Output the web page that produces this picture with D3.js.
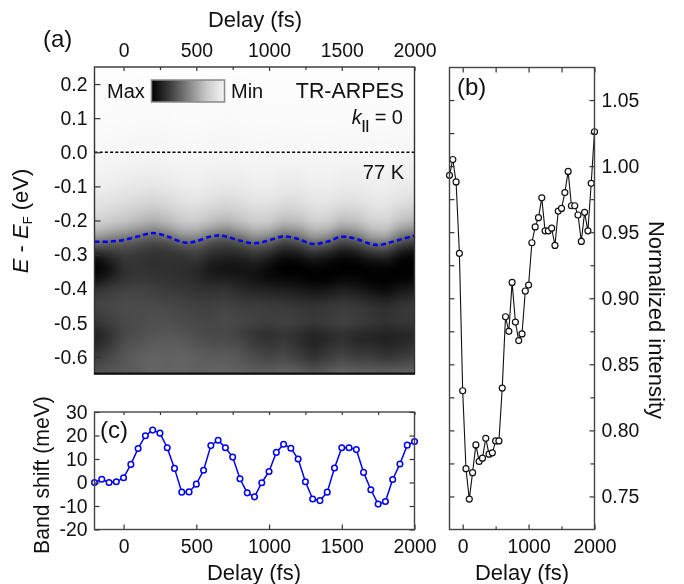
<!DOCTYPE html>
<html>
<head>
<meta charset="utf-8">
<script src="https://cdn.jsdelivr.net/npm/d3@7"></script>
<style>
	html, body { margin: 0; background: #fff; }
	#wrap { position: relative; width: 684px; height: 584px; overflow: hidden; }
	canvas, svg { position: absolute; left: 0; top: 0; }
	text { font-family: "Liberation Sans", Arial, sans-serif; fill: #111; }
	.tick text { font-size: 19.4px; fill: #111; font-family: "Liberation Sans", Arial, sans-serif; }
	.tick line, .domain { stroke: #333; stroke-width: 1.2; }
	.title { font-size: 22px; }
</style>
</head>
<body>
<div id="wrap"><canvas id="heat" width="684" height="584"></canvas><svg id="plot" width="684" height="584"></svg></div>
<script>
//Delay axis shared by (b) and (c), 50 fs steps
const delays = d3.range(45).map(i => -200 + i*50);

const intensity = [0.993,1.005,0.988,0.934,0.830,0.771,0.748,0.768,0.789,0.7765,0.779,0.794,0.782,0.783,0.792,0.792,
	0.832,0.886,0.875,0.912,0.882,0.868,0.873,0.9055,0.910,0.942,0.954,0.961,0.976,0.951,0.951,0.953,0.940,0.966,0.968,
	0.980,0.996,0.970,0.970,0.963,0.943,0.965,0.951,0.987,1.026];

const bandShift = [0,1.4,0,0.3,2,7.7,14.5,19.9,22.3,21,14.8,6,-4.1,-4,-0.7,5.2,15.7,18,14.8,10.8,1.6,-4.4,-6.1,-0.1,4.7,
	12.8,16.3,14.6,10,0.3,-7,-7.7,-4.1,6.2,14.8,14.8,14,4.3,-3.1,-9.2,-8.1,1.3,7.9,15.9,17.4];

//Band position drawn over the map (a)
const traceDelay = [-200,-100,0,100,200,300,400,450,500,600,650,700,800,900,1000,1100,1200,1300,1400,1500,1600,1700,1750,1800,1900,2000];
const traceEnergy = [-0.262,-0.262,-0.257,-0.2466,-0.237,-0.2466,-0.263,-0.265,-0.261,-0.2466,-0.2437,-0.2466,-0.259,-0.267,-0.258,
	-0.2466,-0.254,-0.269,-0.262,-0.2476,-0.254,-0.269,-0.272,-0.268,-0.256,-0.2447];

//Map (a): grey level per energy row and delay column
const mapDelay = d3.range(23).map(i => -200 + i*100);
const mapEnergy = [0.25,0.1,0,-0.05,-0.1,-0.15,-0.2,-0.225,-0.25,-0.275,-0.3,-0.325,-0.35,-0.375,-0.4,-0.45,-0.5,-0.525,-0.55,-0.6,-0.65];
const mapGrey = [
	[253,253,253,253,253,253,253,253,253,253,253,253,253,253,253,253,253,253,253,253,253,253,253],
	[252,251,251,250,250,250,251,251,250,249,250,251,251,251,251,251,251,251,251,251,251,251,251],
	[248,247,246,245,245,246,247,247,246,245,246,247,247,246,246,247,247,246,246,247,247,246,246],
	[244,243,241,240,239,240,242,243,241,240,241,243,243,241,241,243,243,241,241,243,243,241,240],
	[238,236,233,230,229,232,236,237,234,232,234,237,237,234,234,238,238,235,235,238,239,235,233],
	[228,224,220,214,210,216,224,226,220,216,220,226,226,219,220,228,228,221,222,229,230,222,219],
	[212,205,198,187,176,188,204,206,192,182,195,207,205,188,192,210,208,190,195,212,214,195,182],
	[190,178,165,150,135,152,178,178,155,140,160,182,176,145,155,186,180,148,160,190,195,158,140],
	[148,130,115,100,88,102,130,132,100,88,108,140,125,90,105,145,130,90,108,150,158,105,85],
	[85,78,78,70,60,62,78,85,62,55,62,85,72,45,55,85,72,45,55,88,95,52,35],
	[22,45,60,55,48,50,52,60,42,38,38,50,38,15,20,40,28,10,18,40,45,12,5],
	[0,22,50,52,46,48,46,46,28,20,22,28,15,0,0,10,5,0,0,8,12,0,0],
	[0,20,48,52,48,48,46,40,22,20,20,18,5,0,0,0,0,0,0,0,0,0,0],
	[18,38,52,58,55,50,48,42,35,35,28,20,14,10,8,0,2,10,8,0,0,4,8],
	[50,60,65,66,62,58,55,50,48,50,40,35,32,30,25,18,22,30,25,15,8,22,28],
	[70,72,75,74,74,72,68,65,65,68,62,62,60,58,55,52,56,60,58,50,45,55,58],
	[50,62,72,76,80,80,76,72,70,75,70,65,62,66,62,55,60,66,62,55,50,55,55],
	[35,50,70,76,82,84,82,75,70,72,62,52,48,54,46,38,44,50,42,40,35,38,40],
	[32,52,75,82,88,90,88,80,75,76,70,55,48,55,45,32,40,50,38,36,32,36,42],
	[58,72,86,95,100,98,100,95,92,92,85,75,68,75,62,48,60,70,60,62,52,58,65],
	[85,88,90,92,100,95,100,95,100,100,98,95,95,100,98,90,95,105,100,100,100,100,105]
];

const delayTicks = [0,500,1000,1500,2000];
const delayMinor = [250,750,1250,1750];
const energyTicks = [0.2,0.1,0,-0.1,-0.2,-0.3,-0.4,-0.5,-0.6];
const shiftTicks = [30,20,10,0,-10,-20];
const intensityTicks = [1.05,1,0.95,0.9,0.85,0.8,0.75];
const intensityMinor = [1.025,0.975,0.925,0.875,0.825,0.775];
const bTicks = [0,1000,2000];
const bMinor = [500,1500];
const barStops = [0,0.25,0.5,0.75,1];
const barGrey = [0,60,130,200,245];

const svg = d3.select('#plot');

//Scales
const xA = d3.scaleLinear().domain([-200,2000]).range([94.5,414.5]);
const yA = d3.scaleLinear().domain([0.25,-0.65]).range([67,374]);
const yC = d3.scaleLinear().domain([30,-20]).range([412,529.5]);
const xB = d3.scaleLinear().domain([-200,2000]).range([449.5,594.5]);
const yB = d3.scaleLinear().domain([1.075,0.725]).range([67,529.5]);

//Paint the map pixel by pixel, then soften it onto the canvas under the svg
drawMap();
function drawMap(){
	const rowOf = d3.scaleLinear().domain(mapEnergy).range(d3.range(mapEnergy.length)).clamp(true);
	const colOf = d3.scaleLinear().domain([mapDelay[0], mapDelay[mapDelay.length-1]]).range([0, mapDelay.length-1]).clamp(true);
	const [x0,x1] = xA.range().map(Math.round);
	const [y0,y1] = yA.range().map(Math.round);
	const pad = 12;
	const buf = document.createElement('canvas');
	buf.width = x1-x0+2*pad;
	buf.height = y1-y0+2*pad;
	const bctx = buf.getContext('2d');
	const img = bctx.createImageData(buf.width, buf.height);
	for(let j=0; j<buf.height; j++){
		const r = rowOf(yA.invert(y0-pad+j));
		const r0 = Math.min(Math.floor(r), mapEnergy.length-2);
		for(let k=0; k<buf.width; k++){
			const c = colOf(xA.invert(x0-pad+k));
			const c0 = Math.min(Math.floor(c), mapDelay.length-2);
			const top = d3.interpolateNumber(mapGrey[r0][c0], mapGrey[r0][c0+1])(c-c0);
			const bot = d3.interpolateNumber(mapGrey[r0+1][c0], mapGrey[r0+1][c0+1])(c-c0);
			const v = d3.interpolateNumber(top, bot)(r-r0);
			const i = (j*buf.width + k)*4;
			img.data[i] = img.data[i+1] = img.data[i+2] = v;
			img.data[i+3] = 255;
		}
	}
	bctx.putImageData(img, 0, 0);
	const ctx = document.getElementById('heat').getContext('2d');
	ctx.save();
	ctx.beginPath();
	ctx.rect(x0, y0, x1-x0, y1-y0);
	ctx.clip();
	ctx.filter = 'blur(3px)';
	ctx.drawImage(buf, x0-pad, y0-pad);
	ctx.restore();
}

//Axis helper: inward ticks, labels optional
function addAxis(gen, scale, values, size, pad, labels, fmt, tx, ty){
	const a = gen(scale).tickValues(values).tickSizeInner(-size).tickSizeOuter(0).tickPadding(pad);
	a.tickFormat(labels ? fmt : '');
	const g = svg.append('g').attr('transform', `translate(${tx},${ty})`).call(a);
	g.select('.domain').remove();
	return g;
}
//plain hyphen for negative labels, as in the figure
const hyphen = f => d => f(d).replace('\u2212','-');
const f0 = hyphen(d3.format('d'));
const f1 = hyphen(d3.format('.1f'));
const f2 = d3.format('.2f');

function frame(x0,x1,y0,y1,col){
	svg.append('rect').attr('x',x0).attr('y',y0).attr('width',x1-x0).attr('height',y1-y0)
		.attr('fill','none').attr('stroke',col).attr('stroke-width',1.4);
}

//Panel (a)
svg.append('line').attr('x1',xA(-200)).attr('x2',xA(2000)).attr('y1',yA(0)).attr('y2',yA(0))
	.attr('stroke','#000').attr('stroke-width',1.5).attr('stroke-dasharray','3 2.2');
const traceLine = d3.line().x(d => xA(d[0])).y(d => yA(d[1])).curve(d3.curveCatmullRom);
svg.append('path').attr('d', traceLine(d3.zip(traceDelay, traceEnergy)))
	.attr('fill','none').attr('stroke','#0000f0').attr('stroke-width',2.5).attr('stroke-dasharray','5 3.2');
addAxis(d3.axisTop, xA, delayTicks, 4, 10, true, f0, 0, 67);
addAxis(d3.axisTop, xA, delayMinor, 3, 0, false, f0, 0, 67);
addAxis(d3.axisLeft, yA, energyTicks, 6, 7, true, f1, 94.5, 0);
frame(94.5,414.5,67,374,'#333');
svg.append('line').attr('x1',94).attr('x2',415).attr('y1',373.5).attr('y2',373.5).attr('stroke','#111').attr('stroke-width',2);

//Colour bar
const grad = svg.append('defs').append('linearGradient').attr('id','bar');
grad.selectAll('stop').data(barStops).enter().append('stop')
	.attr('offset', d => d)
	.attr('stop-color', (d,i) => d3.rgb(barGrey[i],barGrey[i],barGrey[i]));
svg.append('rect').attr('x',151.5).attr('y',80).attr('width',73).attr('height',22)
	.attr('fill','url(#bar)').attr('stroke','#888').attr('stroke-width',1.5);
svg.append('text').attr('x',107).attr('y',98).style('font-size','20px').text('Max');
svg.append('text').attr('x',231).attr('y',98).style('font-size','20px').text('Min');
svg.append('text').attr('x',404).attr('y',98).attr('text-anchor','end').style('font-size','21.4px').text('TR-ARPES');
const kt = svg.append('text').attr('x',403).attr('y',124).attr('text-anchor','end').style('font-size','20px');
kt.append('tspan').style('font-style','italic').text('k');
kt.append('tspan').attr('dy',5).style('font-size','13px').style('font-weight','bold').text('||');
kt.append('tspan').attr('dy',-5).text(' = 0');
svg.append('text').attr('x',404).attr('y',179).attr('text-anchor','end').style('font-size','20px').text('77 K');

svg.append('text').attr('class','title').attr('x',255).attr('y',27).attr('text-anchor','middle').text('Delay (fs)');
svg.append('text').attr('x',43).attr('y',47).style('font-size','24px').text('(a)');
const et = svg.append('text').attr('class','title').attr('text-anchor','middle').attr('transform','translate(28,221) rotate(-90)');
et.append('tspan').style('font-style','italic').text('E');
et.append('tspan').text(' - ');
et.append('tspan').style('font-style','italic').text('E');
et.append('tspan').attr('dy',4).style('font-size','13px').text('F');
et.append('tspan').attr('dy',-4).text(' (eV)');

//Panel (c)
const lineC = d3.line().x((d,i) => xA(delays[i])).y(d => yC(d));
svg.append('path').attr('d', lineC(bandShift)).attr('fill','none').attr('stroke','#0000f0').attr('stroke-width',1.5);
svg.selectAll('.ptC').data(bandShift).enter().append('circle').attr('class','ptC')
	.attr('cx',(d,i) => xA(delays[i])).attr('cy',d => yC(d)).attr('r',2.8)
	.attr('fill','#fff').attr('stroke','#0000f0').attr('stroke-width',1.5);
addAxis(d3.axisTop, xA, delayTicks.concat(delayMinor), 3, 0, false, f0, 0, 412);
addAxis(d3.axisBottom, xA, delayTicks, 5, 9.5, true, f0, 0, 529.5);
addAxis(d3.axisLeft, yC, shiftTicks, 5, 7, true, f0, 94.5, 0);
addAxis(d3.axisRight, yC, shiftTicks, 5, 0, false, f0, 414.5, 0);
frame(94.5,414.5,412,529.5,'#444');
svg.append('text').attr('x',100).attr('y',438).style('font-size','24px').text('(c)');
svg.append('text').attr('class','title').attr('x',254).attr('y',580).attr('text-anchor','middle').text('Delay (fs)');
svg.append('text').attr('class','title').attr('text-anchor','middle').style('font-size','21.2px').attr('transform','translate(49,475) rotate(-90)').text('Band shift (meV)');

//Panel (b)
const lineB = d3.line().x((d,i) => xB(delays[i])).y(d => yB(d));
svg.append('path').attr('d', lineB(intensity)).attr('fill','none').attr('stroke','#111').attr('stroke-width',1.1);
svg.selectAll('.ptB').data(intensity).enter().append('circle').attr('class','ptB')
	.attr('cx',(d,i) => xB(delays[i])).attr('cy',d => yB(d)).attr('r',3)
	.attr('fill','#fff').attr('stroke','#111').attr('stroke-width',1.2);
const bAll = intensityTicks.concat(intensityMinor);
addAxis(d3.axisLeft, yB, bAll, 5, 0, false, f2, 449.5, 0);
addAxis(d3.axisRight, yB, intensityTicks, 5, 7, true, f2, 594.5, 0);
addAxis(d3.axisRight, yB, intensityMinor, 4, 0, false, f2, 594.5, 0);
addAxis(d3.axisTop, xB, bTicks.concat(bMinor), 5, 0, false, f0, 0, 67.5);
addAxis(d3.axisBottom, xB, bTicks, 5, 9.5, true, f0, 0, 529.5);
addAxis(d3.axisBottom, xB, bMinor, 3, 0, false, f0, 0, 529.5);
frame(449.5,594.5,67.5,529.5,'#444');
svg.append('text').attr('x',457).attr('y',95).style('font-size','24px').text('(b)');
svg.append('text').attr('class','title').attr('x',522).attr('y',580).attr('text-anchor','middle').text('Delay (fs)');
svg.append('text').attr('class','title').attr('text-anchor','middle').attr('transform','translate(649,320) rotate(90)').text('Normalized intensity');
</script>
</body>
</html>
